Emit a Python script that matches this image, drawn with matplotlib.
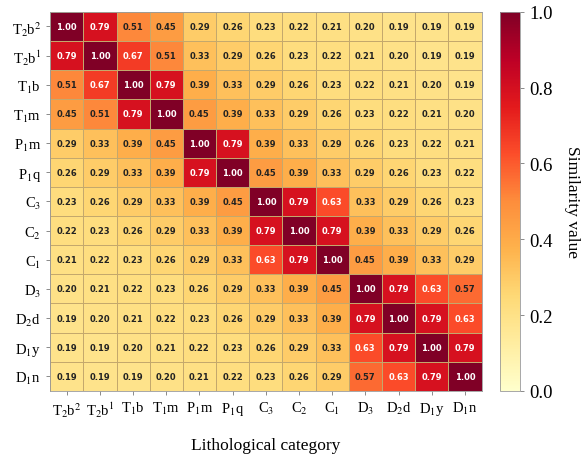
import numpy as np
import matplotlib
matplotlib.use("Agg")
import matplotlib.pyplot as plt

plt.rcParams['font.family'] = ['Liberation Serif', 'DejaVu Serif']
plt.rcParams['mathtext.fontset'] = 'stix'

# lithological categories (rows = columns)
labels = [r'T$_2$b$^2$', r'T$_2$b$^1$', r'T$_1$b', r'T$_1$m', r'P$_1$m', r'P$_1$q',
          r'C$_3$', r'C$_2$', r'C$_1$', r'D$_3$', r'D$_2$d', r'D$_1$y', r'D$_1$n']

# similarity matrix, read row by row
sim = np.array([
    [1.00, 0.79, 0.51, 0.45, 0.29, 0.26, 0.23, 0.22, 0.21, 0.20, 0.19, 0.19, 0.19],
    [0.79, 1.00, 0.67, 0.51, 0.33, 0.29, 0.26, 0.23, 0.22, 0.21, 0.20, 0.19, 0.19],
    [0.51, 0.67, 1.00, 0.79, 0.39, 0.33, 0.29, 0.26, 0.23, 0.22, 0.21, 0.20, 0.19],
    [0.45, 0.51, 0.79, 1.00, 0.45, 0.39, 0.33, 0.29, 0.26, 0.23, 0.22, 0.21, 0.20],
    [0.29, 0.33, 0.39, 0.45, 1.00, 0.79, 0.39, 0.33, 0.29, 0.26, 0.23, 0.22, 0.21],
    [0.26, 0.29, 0.33, 0.39, 0.79, 1.00, 0.45, 0.39, 0.33, 0.29, 0.26, 0.23, 0.22],
    [0.23, 0.26, 0.29, 0.33, 0.39, 0.45, 1.00, 0.79, 0.63, 0.33, 0.29, 0.26, 0.23],
    [0.22, 0.23, 0.26, 0.29, 0.33, 0.39, 0.79, 1.00, 0.79, 0.39, 0.33, 0.29, 0.26],
    [0.21, 0.22, 0.23, 0.26, 0.29, 0.33, 0.63, 0.79, 1.00, 0.45, 0.39, 0.33, 0.29],
    [0.20, 0.21, 0.22, 0.23, 0.26, 0.29, 0.33, 0.39, 0.45, 1.00, 0.79, 0.63, 0.57],
    [0.19, 0.20, 0.21, 0.22, 0.23, 0.26, 0.29, 0.33, 0.39, 0.79, 1.00, 0.79, 0.63],
    [0.19, 0.19, 0.20, 0.21, 0.22, 0.23, 0.26, 0.29, 0.33, 0.63, 0.79, 1.00, 0.79],
    [0.19, 0.19, 0.19, 0.20, 0.21, 0.22, 0.23, 0.26, 0.29, 0.57, 0.63, 0.79, 1.00],
])

fig = plt.figure(figsize=(5.83, 4.60), dpi=100)
ax = fig.add_axes([0.086, 0.148, 0.740, 0.824])
cax = fig.add_axes([0.858, 0.148, 0.034, 0.824])

n = len(labels)
mesh = ax.pcolormesh(np.arange(n + 1), np.arange(n + 1), sim, cmap='YlOrRd',
                     vmin=0, vmax=1, edgecolors='#c4a86c', linewidth=0.5)
ax.set_xlim(0, n)
ax.set_ylim(n, 0)

# annotations
for i in range(n):
    for j in range(n):
        v = sim[i, j]
        col = 'white' if v > 0.6 else '#222222'
        ax.text(j + 0.5, i + 0.5, f"{v:.2f}", ha='center', va='center',
                fontsize=6, fontweight='bold', color=col, family='DejaVu Sans')

ax.set_xticks(np.arange(n) + 0.5)
ax.set_yticks(np.arange(n) + 0.5)
ax.set_xticklabels(labels, fontsize=10.5)
ax.set_yticklabels(labels, fontsize=10.5)
ax.tick_params(length=3, width=0.6, color='#777777')
for s in ax.spines.values():
    s.set_color('#999999')
    s.set_linewidth(0.6)
ax.set_xlabel('Lithological category', fontsize=12.5, labelpad=13)

cb = fig.colorbar(mesh, cax=cax)
cb.set_ticks([0.0, 0.2, 0.4, 0.6, 0.8, 1.0])
cb.ax.tick_params(labelsize=13.5, length=3, width=0.6, color='#777777')
cb.outline.set_linewidth(0.6)
cb.outline.set_edgecolor('#999999')
cb.set_label('Similarity value', rotation=270, fontsize=12.5, labelpad=20)

fig.savefig('out.png', dpi=100)
